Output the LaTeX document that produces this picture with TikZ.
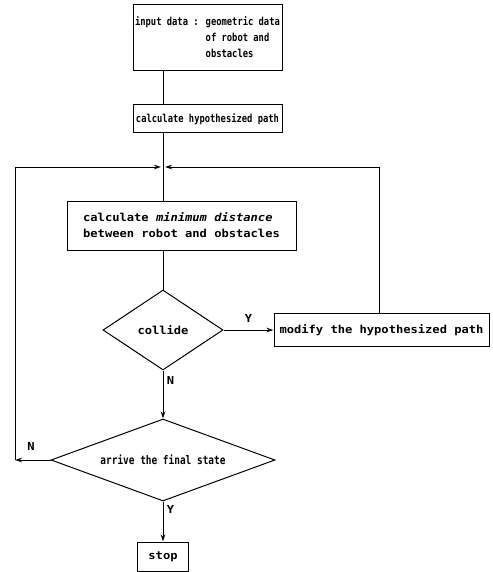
\documentclass[tikz,border=0pt]{standalone}
\usepackage{fontspec}
\newfontfamily\flowfont[FakeStretch=1.1]{DejaVu Sans Mono}
\newfontfamily\narrowfont[FakeStretch=0.8]{DejaVu Sans Mono}
\usetikzlibrary{positioning,arrows.meta,shapes.geometric}
\tikzset{
    block/.style = {
        draw,
        rectangle,
        line width=1pt,
        inner sep=0pt,
        align=left,
        font=\flowfont\bfseries\fontsize{11}{16}\selectfont,
        },
    narrow block/.style = {
        block,
        font=\narrowfont\bfseries\fontsize{11}{16}\selectfont,
        },
    decision/.style = {
        draw,
        diamond,
        line width=1pt,
        inner sep=0pt,
        font=\flowfont\bfseries\fontsize{11}{16}\selectfont,
        },
    flow/.style = {
        line width=1pt,
        },
    flow arrow/.style = {
        flow,
        -{Stealth[length=7pt,width=4.5pt]},
        },
    answer/.style = {
        font=\flowfont\bfseries\fontsize{11}{13}\selectfont,
        },
}
\begin{document}
\begin{tikzpicture}[x=1pt,y=1pt]
    \useasboundingbox (0,0) rectangle (492,-572);

    \node[narrow block, minimum width=149pt, minimum height=66pt] (input) at (207.5,-38)
        {\begin{tabular}{@{}l@{ }l@{}}input data :&geometric data\\&of robot and\\&obstacles\end{tabular}};
    \node[narrow block, minimum width=149pt, minimum height=28pt, below=33pt of input] (hypo)
        {calculate hypothesized path};
    \coordinate (join) at (163,-167);
    \node[block, minimum width=229pt, minimum height=49pt, below=67pt of hypo, xshift=-26pt] (mindist)
        {calculate \textit{minimum distance}\\between robot and obstacles};
    \node[decision, aspect=1.5, minimum width=120pt, minimum height=80pt] (collide) at (163,-330) {collide};
    \node[block, minimum width=215pt, minimum height=33pt, right=50pt of collide] (modify)
        {modify the hypothesized path};
    \node[decision, aspect=2.7, minimum width=224pt, minimum height=82pt, below=48pt of collide,
        font=\narrowfont\bfseries\fontsize{11.8}{14}\selectfont] (final) {arrive the final state};
    \node[block, minimum width=51pt, minimum height=29pt, below=40pt of final] (stop) {stop};
    \coordinate (leftturn) at (final.west -| 15,0);

    \draw[flow] (input.south -| join) -- (hypo.north -| join);
    \draw[flow] (hypo.south -| join) -- (mindist.north -| join);
    \draw[flow] (mindist.south -| join) -- (collide.north);
    \draw[flow arrow] (collide.east) -- node[answer, above=4pt] {Y} (modify.west);
    \draw[flow arrow, shorten >=2pt] ([xshift=-2.5pt]modify.north) |- (join);
    \draw[flow arrow] (collide.south) -- node[answer, right, pos=0.2] {N} (final.north);
    \draw[flow arrow] (final.west) -- node[answer, above=6pt, pos=0.55] {N} (leftturn);
    \draw[flow arrow, shorten >=2pt] (leftturn) |- (join);
    \draw[flow arrow] (final.south) -- node[answer, right, pos=0.2] {Y} (stop.north);
\end{tikzpicture}
\end{document}
